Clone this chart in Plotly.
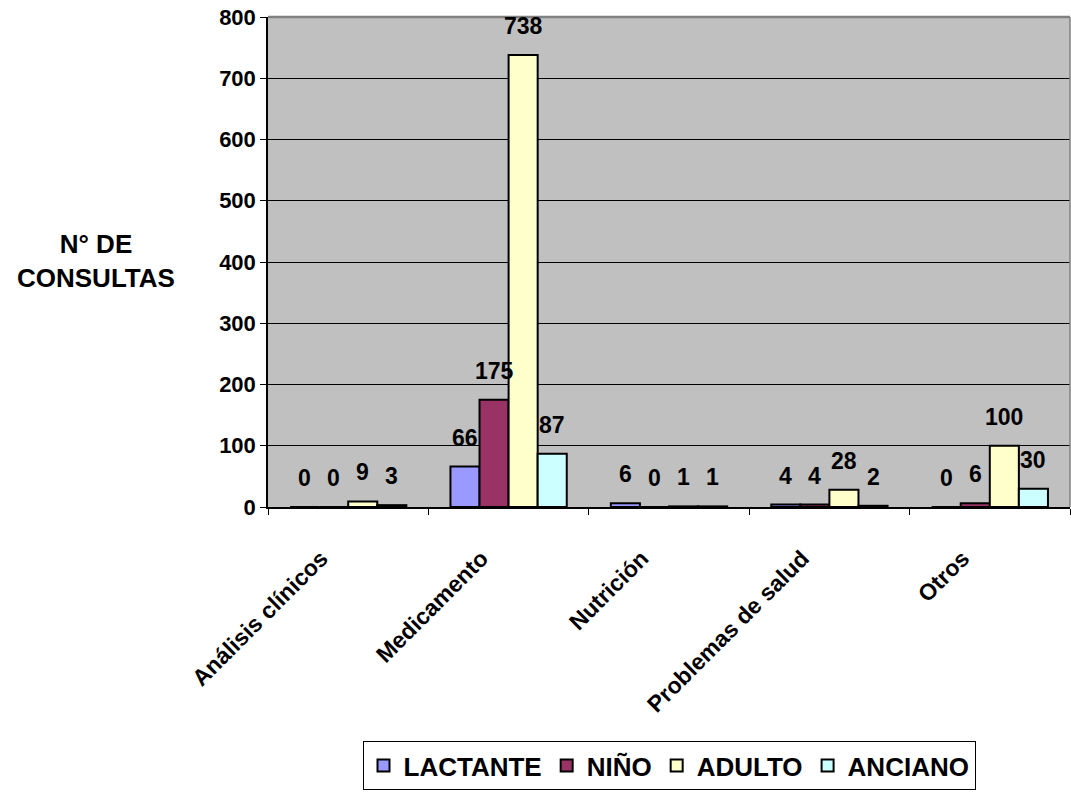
import plotly.graph_objects as go

categorias = ["Análisis clínicos", "Medicamento", "Nutrición", "Problemas de salud", "Otros"]
lactante = [0, 66, 6, 4, 0]
nino = [0, 175, 0, 4, 6]
adulto = [9, 738, 1, 28, 100]
anciano = [3, 87, 1, 2, 30]

series = [
    ("LACTANTE", lactante, "#9999FF"),
    ("NIÑO", nino, "#993366"),
    ("ADULTO", adulto, "#FFFFCC"),
    ("ANCIANO", anciano, "#CCFFFF"),
]

FONT = "Liberation Sans, Arial, sans-serif"

fig = go.Figure()
for nombre, valores, color in series:
    fig.add_trace(go.Bar(
        x=categorias, y=valores, name=nombre,
        marker=dict(color=color, line=dict(color="black", width=2)),
    ))

# value labels above each bar, shifted to the bar's slot in the group
L, R, T, B = 268, 1, 17, 285
plot_w = 1071 - L - R
cat_w = plot_w / len(categorias)
bargap = 0.275
bar_w = cat_w * (1 - bargap) / len(series)
for i, (nombre, valores, color) in enumerate(series):
    dx = (i - (len(series) - 1) / 2) * bar_w
    for c, v in zip(categorias, valores):
        fig.add_annotation(
            x=c, y=v, text=f"<b>{v}</b>", showarrow=False,
            xshift=dx, yshift=14, yanchor="bottom",
            font=dict(family=FONT, size=23, color="black"),
        )

fig.add_annotation(
    xref="paper", yref="paper", x=-0.2145, y=0.502,
    text="<b>N° DE<br>CONSULTAS</b>", showarrow=False,
    xanchor="center", yanchor="middle", align="center",
    font=dict(family=FONT, size=26, color="black"),
)

# grey frame on the top and right of the plot area
fig.add_shape(type="line", xref="paper", yref="paper", x0=0, x1=1, y0=1, y1=1,
              line=dict(color="#808080", width=2.5))
fig.add_shape(type="line", xref="paper", yref="paper", x0=1, x1=1, y0=0, y1=1,
              line=dict(color="#808080", width=1.5))

fig.update_layout(
    width=1071, height=792,
    margin=dict(l=L, r=R, t=T, b=B),
    paper_bgcolor="white", plot_bgcolor="#C0C0C0",
    barmode="group", bargap=bargap, bargroupgap=0,
    font=dict(family=FONT, color="black"),
    showlegend=True,
    legend=dict(
        orientation="h", x=0.5, xanchor="center", y=-0.478, yanchor="top",
        bordercolor="black", borderwidth=1, bgcolor="white",
        font=dict(family=FONT, size=26, color="black", weight="bold"),
        itemwidth=30, tracegroupgap=0,
    ),
    xaxis=dict(
        tickangle=-45, tickson="boundaries", ticks="outside", ticklen=6,
        tickcolor="black", showline=True, linecolor="black", linewidth=1.5,
        tickfont=dict(family=FONT, size=23, color="black", weight="bold"),
        tickvals=categorias,
        ticktext=[c + "\u00a0" * 6 for c in categorias],
        showgrid=False,
    ),
    yaxis=dict(
        range=[0, 800], dtick=100, ticks="outside", ticklen=6, tickcolor="black",
        showline=True, linecolor="black", linewidth=1.5,
        showgrid=True, gridcolor="black", gridwidth=1,
        tickfont=dict(family=FONT, size=22, color="black", weight="bold"),
        zeroline=False,
    ),
)

fig.write_html("out.html")
